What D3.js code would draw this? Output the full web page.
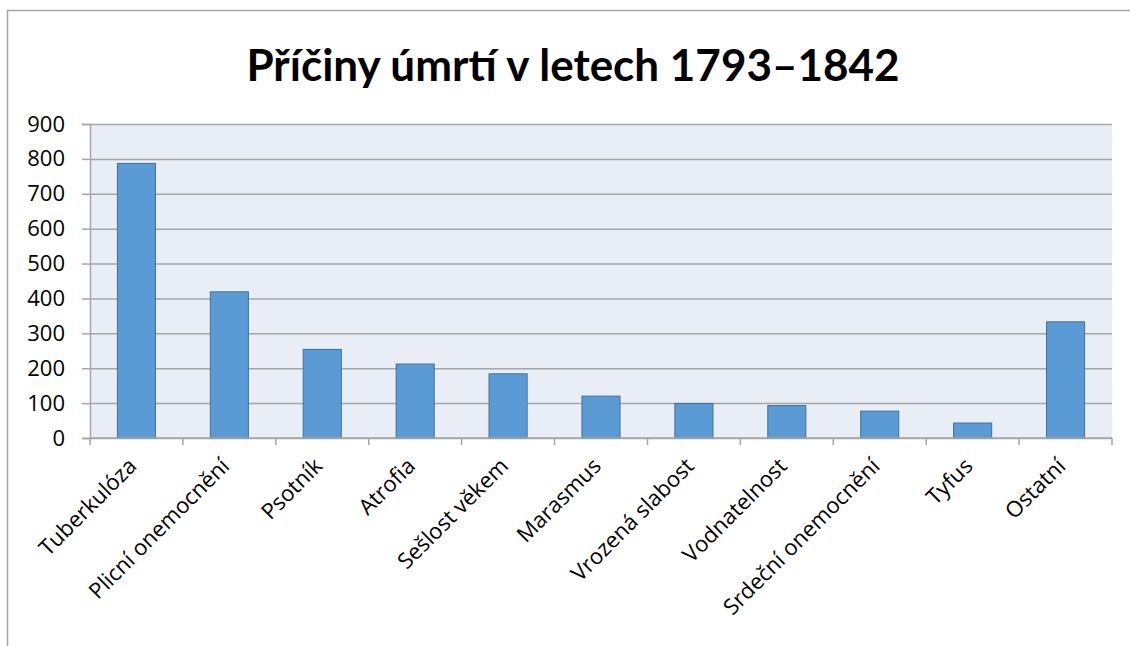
<!DOCTYPE html>
<html>
<head>
<meta charset="utf-8">
<script src="https://cdn.jsdelivr.net/npm/d3@7"></script>
<style>
  body { margin: 0; background: #fff; }
  svg { display: block; }
</style>
</head>
<body>
<script>
const categories = ["Tuberkulóza", "Plicní onemocnění", "Psotník", "Atrofia", "Sešlost věkem",
  "Marasmus", "Vrozená slabost", "Vodnatelnost", "Srdeční onemocnění", "Tyfus", "Ostatní"];
const deaths = [787, 419, 254, 212, 184, 120, 99, 93, 77, 43, 333];
const yTicks = [0, 100, 200, 300, 400, 500, 600, 700, 800, 900];
const title = "Příčiny úmrtí v letech 1793–1842";

const width = 1130;
const height = 646;
const plotLeft = 90;
const plotRight = 1112;
const plotTop = 124;
const plotBottom = 438;

const svg = d3.select("body").append("svg")
  .attr("width", width)
  .attr("height", height);

// frame (only top and left edges are visible)
svg.append("path")
  .attr("d", `M7.5,${height} V10.5 H${width}`)
  .attr("fill", "none")
  .attr("stroke", "#a6a6a6")
  .attr("stroke-width", 1.5);

svg.append("text")
  .attr("x", 573)
  .attr("y", 81)
  .attr("text-anchor", "middle")
  .style("font-family", "Lato, 'Open Sans', sans-serif")
  .style("font-weight", "bold")
  .style("font-size", "44px")
  .attr("fill", "#000")
  .text(title);

const x = d3.scaleBand()
  .domain(categories)
  .range([plotLeft, plotRight])
  .paddingInner(0.59)
  .paddingOuter(0.295);

const y = d3.scaleLinear()
  .domain([0, 900])
  .range([plotBottom, plotTop]);

// plot background
svg.append("rect")
  .attr("x", plotLeft)
  .attr("y", plotTop)
  .attr("width", plotRight - plotLeft)
  .attr("height", plotBottom - plotTop)
  .attr("fill", "#e9edf6");

// gridlines + y axis
const yAxis = d3.axisLeft(y)
  .tickValues(yTicks)
  .tickSize(8)
  .tickPadding(17);

const gy = svg.append("g")
  .attr("transform", `translate(${plotLeft},0)`)
  .call(yAxis);
gy.select(".domain").attr("stroke", "#a6a6a6").attr("stroke-width", 1.5);
gy.selectAll(".tick line").attr("stroke", "#a6a6a6").attr("stroke-width", 1.5);
gy.selectAll(".tick").append("line")
  .attr("x1", 0)
  .attr("x2", plotRight - plotLeft)
  .attr("stroke", "#a6a6a6")
  .attr("stroke-width", 1.5);
gy.selectAll("text")
  .style("font-family", "'Open Sans', sans-serif")
  .style("font-size", "22px")
  .attr("fill", "#000");

// bars
svg.selectAll("rect.bar")
  .data(categories)
  .enter()
  .append("rect")
  .attr("class", "bar")
  .attr("x", d => x(d))
  .attr("y", (d, i) => y(deaths[i]))
  .attr("width", x.bandwidth())
  .attr("height", (d, i) => y(0) - y(deaths[i]))
  .attr("fill", "#5b9bd5")
  .attr("stroke", "#41719c")
  .attr("stroke-width", 1);

// x axis: ticks at category boundaries
const step = x.step();
const boundaries = d3.range(categories.length + 1).map(i => plotLeft + i * step);
const gx = svg.append("g");
gx.append("line")
  .attr("x1", plotLeft).attr("x2", plotRight)
  .attr("y1", plotBottom).attr("y2", plotBottom)
  .attr("stroke", "#a6a6a6").attr("stroke-width", 1.5);
gx.selectAll("line.btick")
  .data(boundaries)
  .enter()
  .append("line")
  .attr("class", "btick")
  .attr("x1", d => d).attr("x2", d => d)
  .attr("y1", plotBottom).attr("y2", plotBottom + 7)
  .attr("stroke", "#a6a6a6").attr("stroke-width", 1.5);

gx.selectAll("text")
  .data(categories)
  .enter()
  .append("text")
  .attr("transform", d => `translate(${x(d) + x.bandwidth() / 2 - 4},${plotBottom + 24}) rotate(-45)`)
  .attr("text-anchor", "end")
  .attr("dy", "0.35em")
  .style("font-family", "'Open Sans', sans-serif")
  .style("font-size", "22px")
  .attr("fill", "#000")
  .text(d => d);
</script>
</body>
</html>
